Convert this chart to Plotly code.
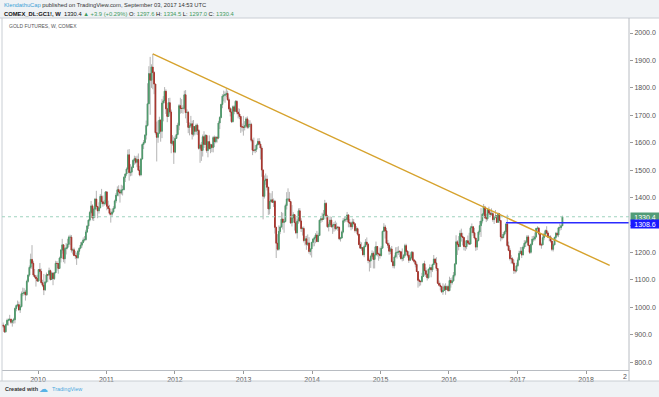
import plotly.graph_objects as go
import pandas as pd

# ---------------- data (weekly COMEX gold futures) ----------------
last_week = "2017-08-28"
first_open = 936.0

closes = [
    # 2009 (from week of Jun 29)
    932, 911, 937, 953, 955, 957, 946, 953, 955, 996, 1007, 1010, 991, 1003, 1050, 1051, 1056, 1046, 1095, 1118, 1146, 1175, 1161, 1118, 1111, 1105, 1096,
    # 2010
    1138, 1131, 1090, 1081, 1064, 1093, 1119, 1118, 1134, 1102, 1125, 1105, 1126, 1161, 1160, 1142, 1180, 1209, 1228, 1177, 1214, 1217, 1230, 1256, 1256, 1209,
    1210, 1189, 1188, 1181, 1205, 1216, 1227, 1236, 1246, 1247, 1275, 1297, 1318, 1346, 1370, 1326, 1358, 1395, 1368, 1352, 1363, 1405, 1385, 1378, 1380, 1421,
    # 2011
    1369, 1360, 1343, 1340, 1348, 1361, 1388, 1409, 1429, 1421, 1417, 1428, 1429, 1474, 1486, 1504, 1556, 1491, 1493, 1510, 1536, 1542, 1529, 1539, 1500, 1483,
    1541, 1594, 1601, 1628, 1663, 1742, 1852, 1828, 1876, 1856, 1814, 1637, 1620, 1635, 1683, 1642, 1745, 1753, 1788, 1724, 1696, 1746, 1712, 1598, 1606, 1566,
    # 2012
    1616, 1630, 1664, 1735, 1725, 1725, 1726, 1775, 1710, 1711, 1656, 1662, 1669, 1631, 1659, 1642, 1664, 1645, 1580, 1592, 1572, 1622, 1594, 1627, 1572, 1604,
    1579, 1593, 1583, 1619, 1604, 1620, 1617, 1672, 1692, 1740, 1770, 1773, 1776, 1780, 1757, 1724, 1712, 1677, 1731, 1715, 1751, 1712, 1705, 1696, 1659, 1657, 1656,
    # 2013
    1662, 1687, 1657, 1667, 1667, 1609, 1573, 1572, 1576, 1592, 1605, 1595, 1581, 1501, 1405, 1462, 1468, 1438, 1359, 1386, 1392, 1383, 1387, 1292, 1234,
    1212, 1277, 1293, 1322, 1310, 1313, 1371, 1395, 1395, 1386, 1308, 1326, 1338, 1309, 1272, 1315, 1352, 1315, 1287, 1288, 1244, 1250, 1230, 1235, 1204, 1213, 1237,
    # 2014
    1249, 1254, 1264, 1240, 1262, 1318, 1323, 1321, 1339, 1379, 1333, 1294, 1302, 1318, 1294, 1300, 1302, 1287, 1293, 1292, 1250, 1253, 1275, 1316, 1320, 1320,
    1337, 1310, 1307, 1294, 1311, 1305, 1280, 1287, 1267, 1229, 1216, 1218, 1192, 1222, 1238, 1230, 1171, 1169, 1186, 1197, 1175, 1191, 1222, 1195, 1195, 1189,
    # 2015
    1216, 1277, 1293, 1279, 1234, 1227, 1205, 1213, 1167, 1152, 1184, 1199, 1201, 1204, 1203, 1178, 1180, 1189, 1225, 1204, 1190, 1172, 1181, 1201, 1173, 1168,
    1157, 1131, 1099, 1095, 1094, 1113, 1159, 1134, 1121, 1108, 1139, 1145, 1137, 1156, 1176, 1162, 1142, 1088, 1081, 1076, 1057, 1062, 1076, 1065, 1076, 1061,
    # 2016
    1098, 1090, 1097, 1117, 1158, 1239, 1230, 1222, 1270, 1259, 1255, 1222, 1221, 1243, 1235, 1231, 1290, 1294, 1272, 1253, 1220, 1244, 1275, 1298, 1315, 1340,
    1366, 1327, 1323, 1357, 1344, 1339, 1342, 1320, 1327, 1334, 1310, 1341, 1317, 1257, 1254, 1267, 1276, 1304, 1225, 1208, 1178, 1177, 1162, 1135, 1133, 1152,
    # 2017
    1173, 1197, 1205, 1191, 1220, 1234, 1238, 1257, 1226, 1201, 1230, 1249, 1249, 1257, 1288, 1289, 1268,
    1228, 1228, 1254, 1267, 1280, 1271, 1256, 1257, 1242, 1212, 1228, 1255, 1270, 1264, 1290, 1291, 1297.6, 1330.4,
]

highs = [
    # 2009
    945, 935, 940, 959, 960, 973, 959, 955, 962, 1000, 1011, 1025, 1021, 1011, 1058, 1072, 1070, 1064, 1101, 1120, 1153, 1196, 1227, 1170, 1140, 1118, 1119,
    # 2010
    1140, 1162, 1142, 1101, 1122, 1095, 1127, 1121, 1145, 1138, 1130, 1129, 1129, 1170, 1169, 1158, 1185, 1213, 1250, 1231, 1219, 1235, 1250, 1262, 1265, 1264,
    1215, 1218, 1206, 1200, 1210, 1219, 1238, 1241, 1255, 1260, 1283, 1300, 1321, 1352, 1388, 1376, 1364, 1399, 1425, 1367, 1383, 1413, 1432, 1408, 1392, 1424,
    # 2011
    1423, 1389, 1374, 1350, 1360, 1369, 1393, 1417, 1441, 1445, 1431, 1447, 1444, 1478, 1490, 1510, 1575, 1577, 1522, 1516, 1540, 1553, 1551, 1553, 1561, 1516,
    1545, 1597, 1610, 1631, 1681, 1817, 1879, 1913, 1886, 1924, 1861, 1813, 1677, 1681, 1695, 1683, 1760, 1770, 1803, 1795, 1727, 1763, 1764, 1721, 1628, 1622,
    # 2012
    1626, 1665, 1673, 1741, 1764, 1759, 1737, 1790, 1792, 1722, 1716, 1674, 1698, 1681, 1683, 1657, 1670, 1670, 1650, 1597, 1603, 1630, 1642, 1631, 1629, 1606,
    1627, 1597, 1596, 1625, 1626, 1624, 1625, 1680, 1697, 1742, 1777, 1790, 1787, 1798, 1790, 1765, 1730, 1725, 1736, 1737, 1755, 1755, 1726, 1724, 1698, 1670, 1698,
    # 2013
    1679, 1694, 1696, 1684, 1682, 1673, 1615, 1619, 1591, 1597, 1616, 1617, 1605, 1588, 1480, 1481, 1488, 1481, 1438, 1418, 1416, 1424, 1397, 1392, 1287,
    1267, 1299, 1298, 1348, 1345, 1323, 1378, 1420, 1434, 1421, 1388, 1373, 1347, 1338, 1328, 1322, 1361, 1362, 1325, 1294, 1295, 1260, 1261, 1266, 1256, 1215, 1239,
    # 2014
    1252, 1259, 1271, 1279, 1272, 1320, 1332, 1345, 1355, 1392, 1384, 1338, 1310, 1332, 1330, 1305, 1311, 1316, 1309, 1296, 1294, 1257, 1280, 1326, 1329, 1333,
    1348, 1339, 1322, 1313, 1324, 1322, 1303, 1296, 1291, 1267, 1240, 1237, 1219, 1229, 1249, 1255, 1235, 1178, 1192, 1208, 1204, 1221, 1240, 1223, 1200, 1218,
    # 2015
    1224, 1280, 1307, 1301, 1290, 1246, 1236, 1219, 1224, 1170, 1190, 1219, 1220, 1223, 1209, 1206, 1215, 1195, 1232, 1232, 1209, 1205, 1194, 1205, 1205, 1177,
    1172, 1164, 1131, 1104, 1099, 1126, 1162, 1170, 1146, 1124, 1142, 1157, 1142, 1160, 1191, 1180, 1183, 1143, 1098, 1090, 1078, 1088, 1083, 1088, 1080, 1083,
    # 2016
    1112, 1107, 1110, 1129, 1162, 1263, 1245, 1260, 1281, 1287, 1272, 1255, 1244, 1245, 1262, 1272, 1297, 1306, 1287, 1290, 1254, 1248, 1280, 1315, 1362, 1344,
    1377, 1370, 1341, 1361, 1367, 1353, 1361, 1348, 1331, 1355, 1334, 1346, 1344, 1317, 1267, 1275, 1280, 1308.6, 1338, 1240, 1216, 1191, 1183, 1174, 1140, 1163,
    # 2017
    1182, 1207, 1220, 1220, 1226, 1245, 1245, 1264, 1264, 1227, 1233, 1260, 1261, 1273, 1290, 1296, 1293,
    1270, 1236, 1264, 1272, 1284, 1296, 1277, 1262, 1263, 1242, 1234, 1258, 1275, 1276, 1294, 1306, 1302, 1334.5,
]

lows = [
    # 2009
    925, 907, 908, 933, 934, 950, 940, 930, 941, 942, 986, 1001, 988, 980, 1000, 1041, 1044, 1025, 1042, 1090, 1112, 1140, 1140, 1112, 1106, 1076, 1093,
    # 2010
    1095, 1123, 1087, 1074, 1045, 1060, 1088, 1092, 1114, 1098, 1100, 1081, 1100, 1125, 1134, 1123, 1140, 1164, 1196, 1165, 1160, 1193, 1212, 1220, 1227, 1200,
    1193, 1187, 1176, 1155, 1177, 1192, 1212, 1218, 1240, 1240, 1243, 1271, 1286, 1313, 1340, 1317, 1315, 1327, 1357, 1325, 1342, 1362, 1377, 1367, 1371, 1374,
    # 2011
    1354, 1359, 1336, 1309, 1330, 1343, 1358, 1380, 1405, 1405, 1382, 1411, 1408, 1427, 1457, 1479, 1500, 1462, 1478, 1480, 1509, 1520, 1522, 1511, 1497, 1478,
    1478, 1540, 1577, 1597, 1612, 1659, 1745, 1702, 1800, 1795, 1777, 1630, 1532, 1600, 1652, 1604, 1617, 1678, 1744, 1705, 1675, 1700, 1705, 1562, 1590, 1523,
    # 2012
    1562, 1615, 1627, 1646, 1706, 1708, 1706, 1720, 1689, 1672, 1635, 1627, 1655, 1612, 1623, 1627, 1630, 1628, 1575, 1527, 1534, 1550, 1581, 1592, 1564, 1547,
    1575, 1562, 1566, 1565, 1584, 1598, 1601, 1613, 1650, 1689, 1726, 1751, 1746, 1766, 1753, 1718, 1696, 1672, 1674, 1704, 1719, 1704, 1689, 1686, 1636, 1641, 1626,
    # 2013
    1645, 1654, 1651, 1652, 1657, 1602, 1555, 1565, 1562, 1566, 1599, 1591, 1539, 1476, 1321, 1397, 1447, 1426, 1337, 1339, 1383, 1383, 1366, 1269, 1180,
    1207, 1207, 1267, 1291, 1284, 1272, 1310, 1357, 1387, 1386, 1305, 1295, 1310, 1280, 1267, 1251, 1305, 1310, 1275, 1262, 1237, 1226, 1210, 1224, 1196, 1190, 1182,
    # 2014
    1222, 1223, 1234, 1238, 1238, 1260, 1308, 1312, 1320, 1333, 1321, 1290, 1277, 1293, 1291, 1268, 1276, 1280, 1284, 1279, 1245, 1240, 1252, 1270, 1309, 1311,
    1312, 1292, 1292, 1281, 1285, 1302, 1273, 1274, 1261, 1227, 1214, 1207, 1190, 1183, 1219, 1227, 1161, 1131, 1144, 1181, 1142, 1142, 1191, 1186, 1170, 1178,
    # 2015
    1186, 1216, 1276, 1251, 1232, 1216, 1192, 1194, 1164, 1143, 1142, 1181, 1178, 1191, 1183, 1174, 1168, 1170, 1183, 1200, 1182, 1162, 1170, 1175, 1169, 1162,
    1146, 1130, 1072, 1077, 1080, 1091, 1111, 1116, 1111, 1098, 1105, 1124, 1110, 1129, 1155, 1161, 1133, 1085, 1077, 1062, 1053, 1046, 1060, 1046, 1068, 1058,
    # 2016
    1062, 1072, 1083, 1093, 1110, 1158, 1191, 1208, 1220, 1240, 1226, 1208, 1206, 1212, 1228, 1228, 1230, 1271, 1261, 1248, 1206, 1209, 1240, 1265, 1257, 1306,
    1333, 1323, 1311, 1316, 1336, 1330, 1334, 1312, 1304, 1326, 1309, 1312, 1309, 1241, 1247, 1253, 1262, 1273, 1221, 1205, 1171, 1159, 1157, 1122, 1124, 1128,
    # 2017
    1147, 1172, 1195, 1180, 1191, 1213, 1220, 1234, 1223, 1195, 1196, 1226, 1240, 1243, 1254, 1271, 1263,
    1224, 1214, 1226, 1245, 1261, 1266, 1255, 1241, 1236, 1205, 1204, 1227, 1246, 1258, 1256, 1278, 1282, 1297.0,
]

year_labels = ["2010", "2011", "2012", "2013", "2014", "2015", "2016", "2017", "2018"]
price_ticks = [800, 900, 1000, 1100, 1200, 1300, 1400, 1500, 1600, 1700, 1800, 1900, 2000]

trend_dates = ["2011-09-05", "2018-05-07"]
trend_prices = [1924, 1153]
hline_start = "2016-10-31"
hline_level = 1308.6
last_price = 1330.4

x_range = ["2009-06-23", "2018-08-18"]
y_range = [772, 2054.7]

# ---------------- build ----------------
assert len(closes) == len(highs) == len(lows), (len(closes), len(highs), len(lows))
dates = pd.date_range(end=last_week, periods=len(closes), freq="W-MON")
opens = [first_open] + closes[:-1]
highs = [max(h, o, c) for h, o, c in zip(highs, opens, closes)]
lows = [min(l, o, c) for l, o, c in zip(lows, opens, closes)]
body_hi = [max(o, c) for o, c in zip(opens, closes)]
body_lo = [min(o, c) for o, c in zip(opens, closes)]

UP = "#4f9a6c"
DOWN = "#a8352d"
WICK = "#b4b4b4"
FONT = "Arial, Liberation Sans, sans-serif"

fig = go.Figure()
fig.add_trace(go.Candlestick(
    x=dates, open=opens, high=highs, low=lows, close=closes,
    increasing=dict(line=dict(color=WICK, width=1), fillcolor=WICK),
    decreasing=dict(line=dict(color=WICK, width=1), fillcolor=WICK),
    hoverinfo="skip", showlegend=False))
fig.add_trace(go.Candlestick(
    x=dates, open=opens, high=body_hi, low=body_lo, close=closes,
    increasing=dict(line=dict(color=UP, width=1), fillcolor=UP),
    decreasing=dict(line=dict(color=DOWN, width=1), fillcolor=DOWN),
    hoverinfo="skip", showlegend=False))
fig.add_trace(go.Scatter(
    x=trend_dates, y=trend_prices, mode="lines",
    line=dict(color="#d6a22c", width=1.4), hoverinfo="skip", showlegend=False))
fig.add_trace(go.Scatter(
    x=[hline_start, x_range[1]], y=[hline_level, hline_level], mode="lines",
    line=dict(color="#2b2bff", width=1.6), hoverinfo="skip", showlegend=False))

# pixel helpers -> paper coords (plot area x:2..629, y:18..370)
def px(X):
    return (X - 2) / 627.0

def py(Y):
    return (370 - Y) / 352.0

BG = "#eff2f5"
BORDER = "#c9ced4"
shapes = [
    dict(type="rect", xref="paper", yref="paper", x0=px(0), x1=px(659), y0=py(18), y1=py(0),
         fillcolor=BG, line=dict(width=0), layer="below"),
    dict(type="rect", xref="paper", yref="paper", x0=px(0), x1=px(659), y0=py(397), y1=py(381),
         fillcolor=BG, line=dict(width=0), layer="below"),
    dict(type="line", xref="paper", yref="paper", x0=px(0), x1=px(659), y0=py(18), y1=py(18),
         line=dict(color=BORDER, width=1)),
    dict(type="line", xref="paper", yref="paper", x0=px(0), x1=px(659), y0=py(381), y1=py(381),
         line=dict(color=BORDER, width=1)),
    dict(type="line", xref="paper", yref="paper", x0=px(2), x1=px(2), y0=py(381), y1=py(18),
         line=dict(color=BORDER, width=1)),
    dict(type="line", xref="paper", yref="paper", x0=px(629), x1=px(629), y0=py(381), y1=py(18),
         line=dict(color="#b8bcc2", width=1)),
    dict(type="line", xref="paper", yref="y", x0=0, x1=1, y0=last_price, y1=last_price,
         line=dict(color="#9fd3bf", width=1, dash="dot")),
]

GREEN_T = "#3f9a5e"
annotations = [
    dict(xref="paper", yref="paper", x=px(2), y=py(5), xanchor="left", yanchor="middle", showarrow=False,
         text='<span style="color:#3c9fd6">KlendathuCap</span> published on TradingView.com, September 03, 2017 14:53 UTC',
         font=dict(family=FONT, size=5.8, color="#333333")),
    dict(xref="paper", yref="paper", x=px(2), y=py(13.5), xanchor="left", yanchor="middle", showarrow=False,
         text=('<b>COMEX_DL:GC1!, W</b>  1330.4 <span style="color:%s">▲ +3.9 (+0.29%%)</span> '
               'O: <span style="color:%s">1297.6</span> H: <span style="color:%s">1334.5</span> '
               'L: <span style="color:%s">1297.0</span> C: <span style="color:%s">1330.4</span>')
              % (GREEN_T, GREEN_T, GREEN_T, GREEN_T, GREEN_T),
         font=dict(family=FONT, size=5.8, color="#111111")),
    dict(xref="paper", yref="paper", x=px(7), y=py(26), xanchor="left", yanchor="middle", showarrow=False,
         text="GOLD FUTURES, W, COMEX", font=dict(family=FONT, size=5, color="#555555")),
    dict(xref="paper", yref="y", x=1, y=last_price, xanchor="left", yanchor="middle", showarrow=False,
         xshift=1, text="1330.4", bgcolor="#519c77", width=27, borderpad=0.5,
         font=dict(family=FONT, size=7, color="#ffffff")),
    dict(xref="paper", yref="y", x=1, y=hline_level, xanchor="left", yanchor="middle", showarrow=False,
         xshift=1, yshift=-1, text="1308.6", bgcolor="#1a1aff", width=27, borderpad=0.5,
         font=dict(family=FONT, size=7, color="#ffffff")),
    dict(xref="paper", yref="paper", x=1, y=py(376), xanchor="right", yanchor="middle", showarrow=False,
         text="2", font=dict(family=FONT, size=7, color="#555555")),
    dict(xref="paper", yref="paper", x=px(3), y=py(389), xanchor="left", yanchor="middle", showarrow=False,
         text="<b>Created with</b>", font=dict(family=FONT, size=5.5, color="#333333")),
    dict(xref="paper", yref="paper", x=px(37), y=py(389), xanchor="left", yanchor="middle", showarrow=False,
         text="☁", font=dict(family="DejaVu Sans", size=9, color="#5ab3e6")),
    dict(xref="paper", yref="paper", x=px(50), y=py(389), xanchor="left", yanchor="middle", showarrow=False,
         text="TradingView", font=dict(family=FONT, size=5.5, color="#4aa8e0")),
]

fig.update_layout(
    width=659, height=397,
    margin=dict(l=2, r=30, t=18, b=27, pad=0),
    paper_bgcolor="#ffffff", plot_bgcolor="#ffffff",
    font=dict(family=FONT, size=7, color="#555555"),
    showlegend=False,
    shapes=shapes, annotations=annotations,
    xaxis=dict(
        type="date", range=x_range, rangeslider=dict(visible=False),
        tickvals=[y + "-01-01" for y in year_labels], ticktext=year_labels,
        ticks="outside", ticklen=3, tickcolor="#9a9a9a", tickfont=dict(size=7, color="#555555"),
        showgrid=False, zeroline=False, showline=True, linecolor="#b8bcc2", linewidth=1,
    ),
    yaxis=dict(
        side="right", range=y_range, tickvals=price_ticks,
        ticktext=["%.1f" % v for v in price_ticks],
        ticks="outside", ticklen=3, tickcolor="#9a9a9a", tickfont=dict(size=7, color="#555555"),
        showgrid=False, zeroline=False, showline=False,
    ),
)

page_fix = ("document.body.style.margin='0px';"
            "document.body.style.overflow='hidden';"
            "document.documentElement.style.overflow='hidden';")
fig.write_html("out.html", post_script=page_fix, config={"displayModeBar": False})
